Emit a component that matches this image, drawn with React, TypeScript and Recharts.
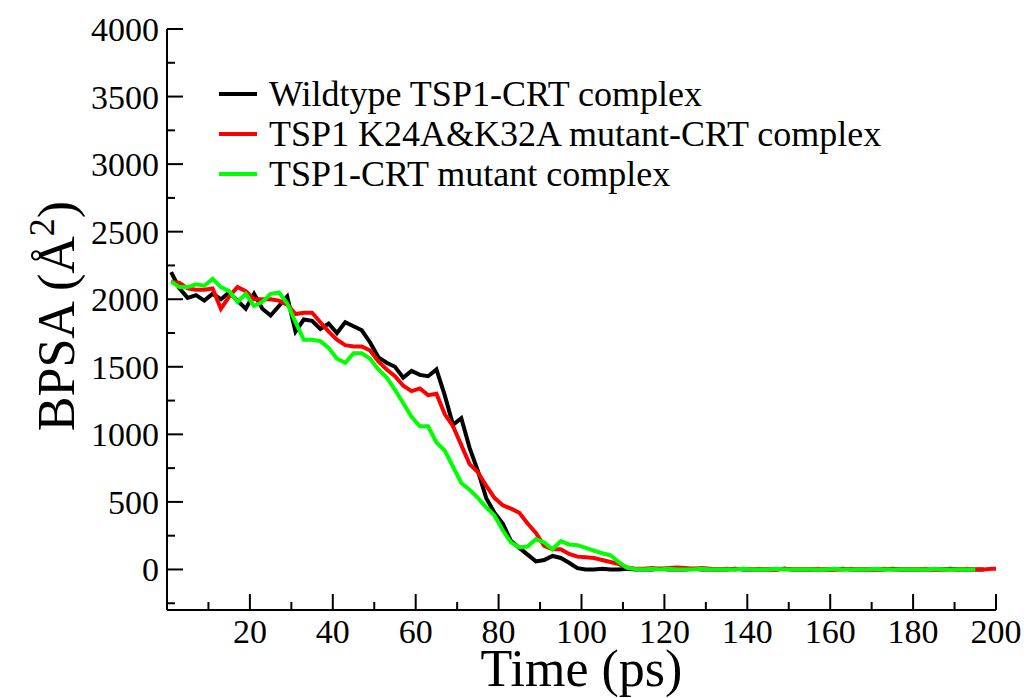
import { LineChart, Line, XAxis, YAxis, Legend } from "recharts"

// sampled every 2 ps (plus the last frame)
const time = [
    1, 3, 5, 7, 9, 11, 13, 15, 17, 19,
    21, 23, 25, 27, 29, 31, 33, 35, 37, 39,
    41, 43, 45, 47, 49, 51, 53, 55, 57, 59,
    61, 63, 65, 67, 69, 71, 73, 75, 77, 79,
    81, 83, 85, 87, 89, 91, 93, 95, 97, 99,
    101, 103, 105, 107, 109, 111, 113, 115, 117, 119,
    121, 123, 125, 127, 129, 131, 133, 135, 137, 139,
    141, 143, 145, 147, 149, 151, 153, 155, 157, 159,
    161, 163, 165, 167, 169, 171, 173, 175, 177, 179,
    181, 183, 185, 187, 189, 191, 193, 195, 197, 199,
    200,
]

const wildtype = [
    2200, 2080, 2010, 2030, 1990, 2040, 2000, 2050, 1990, 1930,
    2040, 1930, 1880, 1950, 2020, 1760, 1850, 1840, 1780, 1820,
    1750, 1830, 1800, 1770, 1680, 1570, 1530, 1500, 1420, 1470,
    1440, 1430, 1480, 1290, 1070, 1120, 900, 730, 530, 420,
    340, 210, 160, 110, 60, 70, 100, 85, 50, 10,
    0, 0, 5, 0, 0, 5, 0, 0, 0, 5,
    0, 0, 0, 5, 0, 0, 0, 0, 5, 0,
    0, 0, 0, 0, 5, 0, 0, 0, 0, 0,
    0, 5, 0, 0, 0, 0, 0, 5, 0, 0,
    0, 0, 0, 0, 5, 0, 0, 0, 0, null,
    null,
]

const doubleMutant = [
    2130, 2120, 2080, 2070, 2070, 2080, 1930, 2020, 2090, 2060,
    2000, 2000, 2000, 1990, 1960, 1890, 1900, 1900, 1830, 1760,
    1700, 1660, 1650, 1650, 1620, 1540, 1480, 1430, 1360, 1320,
    1340, 1290, 1300, 1150, 1060, 920, 780, 720, 620, 530,
    475, 450, 420, 340, 270, 175, 150, 150, 115, 95,
    90, 85, 70, 55, 40, 15, 5, 5, 10, 5,
    10, 15, 10, 5, 10, 5, 0, 5, 0, 5,
    0, 5, 0, 0, 5, 0, 0, 0, 5, 0,
    0, 0, 5, 0, 0, 0, 5, 0, 0, 0,
    0, 5, 0, 0, 0, 0, 5, 0, 0, 5,
    5,
]

const crtMutant = [
    2130, 2090, 2090, 2110, 2100, 2150, 2090, 2060, 1980, 2040,
    1950, 1980, 2040, 2050, 1970, 1830, 1700, 1700, 1690, 1640,
    1560, 1530, 1600, 1600, 1560, 1480, 1420, 1330, 1230, 1130,
    1060, 1060, 940, 880, 760, 640, 590, 530, 460, 400,
    290, 200, 165, 170, 225, 200, 150, 210, 185, 180,
    160, 140, 120, 105, 55, 12, 3, 0, 5, 0,
    5, 0, 0, 0, 5, 0, 0, 0, 0, 5,
    0, 0, 0, 5, 0, 0, 0, 0, 0, 0,
    5, 0, 0, 0, 0, 5, 0, 0, 0, 0,
    0, 0, 5, 0, 0, 0, 0, 0, null, null,
    null,
]

const seriesKeys = ["wt", "dm", "cm"]
const seriesNames = [
    "Wildtype TSP1-CRT complex",
    "TSP1 K24A&K32A mutant-CRT complex",
    "TSP1-CRT mutant complex",
]
const seriesColors = ["#000000", "#ff0000", "#00ff00"]

const xTicks = [10, 20, 30, 40, 50, 60, 70, 80, 90, 100, 110, 120, 130, 140, 150, 160, 170, 180, 190, 200]
const yTicks = [-250, 0, 250, 500, 750, 1000, 1250, 1500, 1750, 2000, 2250, 2500, 2750, 3000, 3250, 3500, 3750, 4000]

const data = time.map((t, i) => ({ t, wt: wildtype[i], dm: doubleMutant[i], cm: crtMutant[i] }))

const FONT = "'Liberation Serif', 'Times New Roman', 'DejaVu Serif', serif"
const serif = { fontFamily: FONT }
const MAJOR = 16
const MINOR = 8

const isMajorX = (v: number) => v % 20 === 0
const isMajorY = (v: number) => v % 500 === 0

function LeftTick(props: any) {
    const { x, y, payload } = props
    const major = isMajorY(payload.value)
    return (
        <g>
            <line x1={x} y1={y} x2={x + (major ? MAJOR : MINOR)} y2={y} stroke="#000" strokeWidth={2} />
            {major && (
                <text x={x - 8} y={y + 12} textAnchor="end" style={serif} fontSize={34} fill="#000">
                    {payload.value}
                </text>
            )}
        </g>
    )
}

function RightTick(props: any) {
    const { x, y, payload } = props
    const major = isMajorY(payload.value)
    return <line x1={x} y1={y} x2={x - (major ? MAJOR : MINOR)} y2={y} stroke="#000" strokeWidth={2} />
}

function BottomTick(props: any) {
    const { x, y, payload } = props
    const major = isMajorX(payload.value)
    return (
        <g>
            <line x1={x} y1={y} x2={x} y2={y - (major ? MAJOR : MINOR)} stroke="#000" strokeWidth={2} />
            {major && (
                <text x={x} y={y + 33} textAnchor="middle" style={serif} fontSize={34} fill="#000">
                    {payload.value}
                </text>
            )}
        </g>
    )
}

function TopTick(props: any) {
    const { x, y, payload } = props
    const major = isMajorX(payload.value)
    return <line x1={x} y1={y} x2={x} y2={y + (major ? MAJOR : MINOR)} stroke="#000" strokeWidth={2} />
}

function LegendBox() {
    return (
        <div style={{ fontFamily: FONT, fontSize: 36, color: "#000" }}>
            {seriesNames.map((name, i) => (
                <div key={name} style={{ display: "flex", alignItems: "center", height: 40, lineHeight: "40px", whiteSpace: "nowrap" }}>
                    <span style={{ display: "inline-block", width: 38, height: 4, background: seriesColors[i], marginRight: 12 }} />
                    <span>{name}</span>
                </div>
            ))}
        </div>
    )
}

const axisLine = { stroke: "#000", strokeWidth: 2 }

export default function App() {
    return (
        <div style={{ position: "absolute", left: 0, top: 0, background: "#fff" }}>
            <LineChart width={1027} height={698} data={data} margin={{ top: 29, right: 31, bottom: 0, left: 0 }} style={serif}>
                <XAxis
                    dataKey="t"
                    type="number"
                    domain={[0, 200]}
                    ticks={xTicks}
                    interval={0}
                    allowDataOverflow
                    height={88}
                    tickSize={0}
                    tickMargin={0}
                    tickLine={false}
                    axisLine={axisLine}
                    tick={(p: any) => <BottomTick {...p} />}
                    label={{
                        content: ({ viewBox }: any) => (
                            <text
                                x={viewBox.x + viewBox.width / 2}
                                y={viewBox.y + 76}
                                textAnchor="middle"
                                style={serif}
                                fontSize={52}
                                fill="#000"
                            >
                                Time (ps)
                            </text>
                        ),
                    }}
                />
                <XAxis
                    xAxisId="top"
                    orientation="top"
                    dataKey="t"
                    type="number"
                    domain={[0, 200]}
                    ticks={xTicks}
                    interval={0}
                    allowDataOverflow
                    height={0}
                    tickSize={0}
                    tickMargin={0}
                    tickLine={false}
                    axisLine={axisLine}
                    tick={(p: any) => <TopTick {...p} />}
                />
                <YAxis
                    type="number"
                    domain={[-300, 4000]}
                    ticks={yTicks}
                    interval={0}
                    allowDataOverflow
                    width={167}
                    tickSize={0}
                    tickMargin={0}
                    tickLine={false}
                    axisLine={axisLine}
                    tick={(p: any) => <LeftTick {...p} />}
                    label={{
                        content: () => (
                            <text
                                x={74}
                                y={316}
                                transform="rotate(-90, 74, 316)"
                                textAnchor="middle"
                                style={serif}
                                fontSize={52}
                                fill="#000"
                            >
                                BPSA (Å<tspan dy={-20} fontSize={36}>2</tspan>
                                <tspan dy={20}>)</tspan>
                            </text>
                        ),
                    }}
                />
                <YAxis
                    yAxisId="right"
                    orientation="right"
                    type="number"
                    domain={[-300, 4000]}
                    ticks={yTicks}
                    interval={0}
                    allowDataOverflow
                    width={0}
                    tickSize={0}
                    tickMargin={0}
                    tickLine={false}
                    axisLine={axisLine}
                    tick={(p: any) => <RightTick {...p} />}
                />
                <Legend
                    layout="vertical"
                    align="center"
                    verticalAlign="middle"
                    wrapperStyle={{ left: 219, top: 74, width: "auto", height: "auto" }}
                    content={() => <LegendBox />}
                />
                {seriesKeys.map((k, i) => (
                    <Line
                        key={k}
                        dataKey={k}
                        name={seriesNames[i]}
                        type="linear"
                        stroke={seriesColors[i]}
                        strokeWidth={4}
                        dot={false}
                        activeDot={false}
                        isAnimationActive={false}
                    />
                ))}
            </LineChart>
        </div>
    )
}
